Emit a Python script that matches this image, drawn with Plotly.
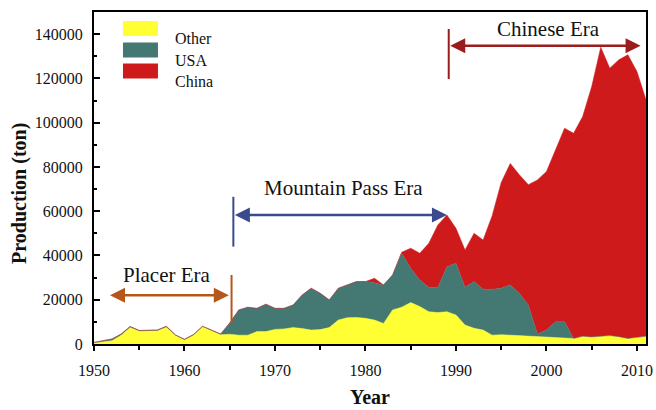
import plotly.graph_objects as go

# Annual rare-earth production by source, 1950-2011 (tons)
years = list(range(1950, 2012))

other = [500, 1000, 1500, 4000, 7500, 5800, 5800, 6000, 7600, 3800,
         1800, 4000, 7800, 6000, 4200, 4400, 4000, 4000, 5600, 5600,
         6600, 6800, 7400, 7000, 6300, 6500, 7400, 10800, 11900, 12000,
         11600, 10800, 9300, 15400, 16600, 18700, 16900, 14600, 14200, 14600,
         13100, 8600, 7100, 6300, 4000, 4200, 4000, 3800, 3500, 3300,
         3000, 2800, 2600, 2500, 3500, 3200, 3500, 3800, 3300, 2500,
         3000, 3500]

usa = [200, 500, 800, 500, 400, 300, 300, 300, 400, 300,
       300, 300, 200, 200, 300, 5100, 11400, 12600, 10500, 12400,
       9500, 9300, 10200, 15100, 18900, 16400, 12500, 14400, 14800, 16200,
       16600, 16900, 17400, 15800, 24400, 15500, 12000, 11000, 11400, 20300,
       23400, 17000, 21100, 18400, 20700, 21000, 22700, 19100, 14100, 1200,
       3300, 7300, 7500, 0, 0, 0, 0, 0, 0, 0,
       0, 0]

china = [0, 0, 0, 0, 0, 0, 0, 0, 0, 0,
         0, 0, 0, 0, 0, 0, 0, 0, 0, 0,
         0, 0, 0, 0, 0, 0, 0, 0, 0, 0,
         0, 2000, 0, 0, 500, 9100, 12100, 19900, 28200, 23400,
         15800, 16900, 21800, 22300, 33300, 47800, 54900, 53600, 54400, 69600,
         71600, 77600, 87400, 92700, 99300, 113100, 130600, 120800, 125100, 128200,
         120100, 106800]

series = [("Other", other, "#ffff33"),
          ("USA", usa, "#447872"),
          ("China", china, "#cf1a1c")]

SERIF = "Liberation Serif, Times New Roman, serif"

fig = go.Figure()
for name, vals, col in series:
    fig.add_trace(go.Scatter(
        x=years, y=vals, name=name, mode="lines",
        stackgroup="prod", fillcolor=col,
        line=dict(color=col, width=0.5),
        showlegend=False,
    ))

# Era markers: (label, x0, x1, arrow y, label x, label y, bar x, bar y0, bar y1, colour)
eras = [
    ("Placer Era", 1951.6, 1964.9, 22000, 1958.1, 31200, 1965.2, 9400, 31200, "#b5561b"),
    ("Mountain Pass Era", 1965.4, 1989.0, 58300, 1977.6, 70500, 1965.4, 44000, 66500, "#3b4a8c"),
    ("Chinese Era", 1989.2, 2010.4, 134700, 2000.2, 142200, 1989.2, 119700, 142300, "#9b1c1c"),
]
for label, x0, x1, ya, tx, ty, bx, by0, by1, col in eras:
    fig.add_shape(type="line", x0=bx, x1=bx, y0=by0, y1=by1,
                  line=dict(color=col, width=2))
    fig.add_annotation(x=x1, y=ya, ax=x0, ay=ya, xref="x", yref="y",
                       axref="x", ayref="y", text="", showarrow=True,
                       arrowhead=2, arrowside="end+start", arrowsize=1.2,
                       arrowwidth=2.5, arrowcolor=col)
    fig.add_annotation(x=tx, y=ty, text=label, showarrow=False,
                       font=dict(family=SERIF, size=21, color="#111111"))

# Legend drawn as swatches with labels
legend_rows = [("Other", "#ffff33", 0.9504), ("USA", "#447872", 0.8855), ("China", "#cf1a1c", 0.8220)]
for name, col, yc in legend_rows:
    fig.add_shape(type="rect", xref="paper", yref="paper",
                  x0=0.0525, x1=0.1159, y0=yc - 0.0226, y1=yc + 0.0226,
                  fillcolor=col, line=dict(width=0))
    fig.add_annotation(xref="paper", yref="paper", x=0.1437, y=yc,
                       text=name, showarrow=False, xanchor="left",
                       font=dict(family=SERIF, size=16, color="#111111"))

# Axis titles
fig.add_annotation(xref="paper", yref="paper", x=-0.134, y=0.452,
                   xanchor="center", yanchor="middle",
                   text="<b>Production (ton)</b>", textangle=-90,
                   showarrow=False,
                   font=dict(family=SERIF, size=20, color="#111111"))
fig.add_annotation(xref="paper", yref="paper", x=0.5, y=-0.16,
                   xanchor="center", yanchor="middle",
                   text="<b>Year</b>", showarrow=False,
                   font=dict(family=SERIF, size=20, color="#111111"))

fig.update_layout(
    width=656, height=410,
    margin=dict(l=94, r=10, t=12, b=66, autoexpand=False),
    paper_bgcolor="white", plot_bgcolor="white",
    font=dict(family=SERIF, size=16, color="#111111"),
)
fig.update_xaxes(
    range=[1950, 2011], tickvals=list(range(1950, 2011, 10)),
    tickfont=dict(family=SERIF, size=16), ticklabelstandoff=6,
    ticks="outside", ticklen=5, tickwidth=1.5, tickcolor="black",
    minor=dict(tickvals=list(range(1955, 2011, 10)), ticks="outside", ticklen=4,
               tickwidth=1.5, tickcolor="black"),
    showline=True, linecolor="black", linewidth=2, mirror=True,
    showgrid=False, zeroline=False, automargin=False,
)
fig.update_yaxes(
    range=[0, 150000], tickvals=list(range(0, 140001, 20000)),
    tickfont=dict(family=SERIF, size=16), ticklabelstandoff=6,
    ticks="inside", ticklen=6, tickwidth=1.5, tickcolor="black",
    minor=dict(tickvals=list(range(10000, 150000, 20000)), ticks="inside",
               ticklen=3, tickwidth=1.5, tickcolor="black"),
    showline=True, linecolor="black", linewidth=2, mirror=True,
    showgrid=False, zeroline=False, tickformat="d", automargin=False,
)

fig.write_html("out.html")
